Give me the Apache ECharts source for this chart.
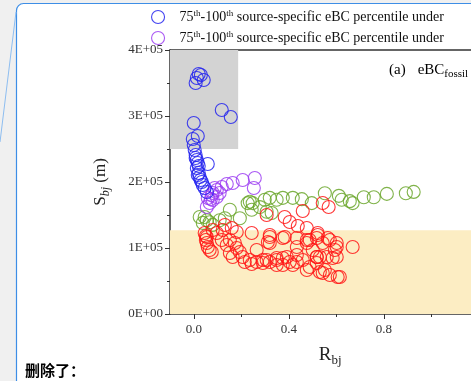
<!DOCTYPE html>
<html><head><meta charset="utf-8">
<script src="https://cdn.jsdelivr.net/npm/echarts@6/dist/echarts.min.js"></script>
<style>
html,body{margin:0;padding:0;overflow:hidden;background:#f0f0f0;width:471px;height:381px}
#c{width:560px;height:381px}
</style>
</head><body><div id="c"></div>
<script>
// ---- data ----
const xTickValues = [0, 0.4, 0.8, 1.2];
const xMinorTickValues = [0.2, 0.6, 1.0];
const yTickLabels = ['0E+00', '1E+05', '2E+05', '3E+05', '4E+05'];
const legendText = '75th-100th source-specific eBC percentile under';
const panelLabel = ['(a)', 'eBC', 'fossil'];
const grayZone = [[-0.1, 250000], [0.187, 400000]];
const yellowZone = [[-0.1, 0], [1.3, 127000]];

const blueData = [
  [0.008,350000],[0.013,357600],[0.021,363600],[0.030,362100],[0.042,354500],
  [0.118,309100],[0.156,298500],[0.000,289400],[0.017,269700],[-0.004,265200],
  [0.000,256100],[0.004,248500],[0.008,240900],[0.008,236400],[0.013,233300],
  [0.017,228800],[0.059,227300],[0.021,224200],[0.013,221200],[0.021,213600],
  [0.017,210600],[0.025,207600],[0.029,203000],[0.034,200000],[0.038,195500],
  [0.046,190900],[0.055,184800]
];
const purpleData = [
  [0.059,175800],[0.067,168200],[0.055,162100],[0.080,183300],[0.080,172700],
  [0.097,187900],[0.097,177300],[0.109,183300],[0.118,192400],[0.139,197000],
  [0.164,198500],[0.206,203000],[0.257,206100],[0.253,190900],[0.076,180300],
  [0.088,190900],[0.072,174200]
];
const greenData = [
  [0.046,147000],[0.055,142000],[0.038,138000],[0.067,139000],[0.080,135000],
  [0.025,147000],[0.109,142000],[0.131,145000],[0.152,158000],[0.194,145000],
  [0.227,168000],[0.236,170000],[0.248,168000],[0.244,158000],[0.278,162000],
  [0.299,173000],[0.320,176000],[0.349,173000],[0.307,155000],[0.328,153000],
  [0.375,176000],[0.417,176000],[0.455,174000],[0.497,168000],[0.552,183000],
  [0.611,179000],[0.623,173000],[0.657,171000],[0.669,168000],[0.716,177000],
  [0.758,177000],[0.813,182000],[0.893,183000],[0.926,185000]
];
const redData = [
  [0.046,122700],[0.055,116700],[0.051,112100],[0.055,107600],[0.059,101500],
  [0.067,97000],[0.076,93900],[0.051,118200],[0.080,127300],[0.097,122700],
  [0.122,127300],[0.131,134800],[0.160,130300],[0.181,124200],[0.152,112100],
  [0.173,107600],[0.181,100000],[0.194,93900],[0.206,86400],[0.236,81800],
  [0.265,78800],[0.291,81800],[0.320,78800],[0.349,81800],[0.375,84800],
  [0.404,78800],[0.434,78800],[0.459,81800],[0.244,122700],[0.320,116700],
  [0.320,107600],[0.383,116700],[0.434,101500],[0.476,112100],[0.501,97000],
  [0.518,86400],[0.265,97000],[0.152,92400],[0.164,86400],[0.476,130300],
  [0.522,119700],[0.564,115200],[0.602,107600],[0.669,101500],[0.476,107600],
  [0.531,86400],[0.585,84800],[0.518,77300],[0.476,66700],[0.531,63600],
  [0.573,59100],[0.606,56100],[0.552,66700],[0.594,97000],[0.459,156100],
  [0.543,168200],[0.568,162100],[0.307,150000],[0.383,147000],[0.404,139400],
  [0.438,133300],[0.320,119700],[0.522,122700],[0.573,112100],[0.602,101500],
  [0.615,56100],[0.543,62100],[0.417,74200],[0.375,74200],[0.349,74200],
  [0.291,77300],[0.139,104500],[0.118,112100],[0.312,109100],[0.375,115200],
  [0.434,115200],[0.488,112100],[0.518,115200],[0.543,107600],[0.602,86400],
  [0.560,86400],[0.518,86400],[0.434,89400],[0.392,86400],[0.349,84800],
  [0.307,81800],[0.488,71200],[0.215,78800],[0.244,75800]
];

// ---- chart ----
const SERIF = '"Liberation Serif","DejaVu Serif",serif';
const chart = echarts.init(document.getElementById('c'), null, {renderer: 'canvas'});
const sym = 13;
function sc(name, data, color) {
  return {
    name: name, type: 'scatter', data: data, symbol: 'circle', symbolSize: sym,
    itemStyle: {color: 'rgba(0,0,0,0)', borderColor: color, borderWidth: 1.1, opacity: 0.85},
    emphasis: {disabled: true}, z: 5
  };
}
const nameBlue = legendText + ' (1)';
const namePurple = legendText + ' (2)';
const axisCol = '#333';
chart.setOption({
  animation: false,
  textStyle: {fontFamily: SERIF},
  graphic: [
    {type: 'rect', z: -10, shape: {x: 16.5, y: 3.5, width: 620, height: 420, r: 7},
     style: {fill: '#ffffff', stroke: '#3d8ee6', lineWidth: 1.2}},
    {type: 'line', z: -9, shape: {x1: 16, y1: 12, x2: 0, y2: 142},
     style: {stroke: '#8dbdf0', lineWidth: 1}},
    {type: 'text', left: 25, top: 363, z: 10,
     style: {text: '删除了：', font: 'bold 15px "Noto Sans CJK SC"', fill: '#000'}},
    {type: 'text', left: 389, top: 63, z: 10,
     style: {text: '{a|' + panelLabel[0] + '}{g| }{a|' + panelLabel[1] + '}{s|' + panelLabel[2] + '}',
       rich: {a: {fontFamily: SERIF, fontSize: 15, fill: '#000', color: '#000'},
              g: {fontFamily: SERIF, fontSize: 15, width: 12},
              s: {fontFamily: SERIF, fontSize: 11, color: '#000', padding: [8, 0, 0, 0]}}}}
  ],
  legend: {
    data: [nameBlue, namePurple], orient: 'vertical', left: 146, top: 4, itemGap: 6,
    itemWidth: 13, itemHeight: 13, icon: 'circle',
    itemStyle: {color: 'rgba(0,0,0,0)', borderWidth: 1.1},
    formatter: function () {
      return '{a|75}{s|th}{a|-100}{s|th}{a| source-specific eBC percentile under}';
    },
    textStyle: {
      fontFamily: SERIF, fontSize: 14, color: '#111', padding: [0, 0, 0, 10],
      rich: {a: {fontFamily: SERIF, fontSize: 14, color: '#111'},
             s: {fontFamily: SERIF, fontSize: 9, color: '#111', verticalAlign: 'top', padding: [0, 0, 7, 0]}}
    }
  },
  grid: {left: 170, top: 50, width: 332.5, bottom: 67, containLabel: false},
  xAxis: [{
    type: 'value', min: -0.1, max: 1.3, position: 'bottom',
    name: '{r|R}{s|bj}', nameLocation: 'middle', nameGap: 30,
    nameTextStyle: {padding: [0, 12, 0, 0], rich: {
      r: {fontFamily: SERIF, fontSize: 19, color: '#222'},
      s: {fontFamily: SERIF, fontSize: 13, color: '#222', padding: [10, 0, 0, 0]}}},
    splitLine: {show: false},
    axisLine: {onZero: false, lineStyle: {color: axisCol, width: 1.5}},
    axisTick: {show: true, inside: false, length: 5, customValues: xTickValues, lineStyle: {color: axisCol}},
    axisLabel: {customValues: xTickValues, margin: 9, fontFamily: SERIF, fontSize: 13, color: '#333',
      formatter: v => v.toFixed(1)}
  }, {
    type: 'value', min: -0.1, max: 1.3, position: 'bottom',
    splitLine: {show: false},
    axisLine: {show: false},
    axisTick: {show: true, length: 3, customValues: xMinorTickValues, lineStyle: {color: axisCol}},
    axisLabel: {show: false}
  }, {
    type: 'value', min: -0.1, max: 1.3, position: 'top',
    splitLine: {show: false},
    axisLine: {show: true, onZero: false, lineStyle: {color: axisCol, width: 1.5}},
    axisTick: {show: false}, axisLabel: {show: false}
  }],
  yAxis: [{
    type: 'value', min: 0, max: 400000, interval: 100000,
    name: '{a|S}{s|bj}{a| (m)}', nameLocation: 'middle', nameGap: 58, nameRotate: 90,
    nameTextStyle: {rich: {
      a: {fontFamily: SERIF, fontSize: 17, color: '#222'},
      s: {fontFamily: SERIF, fontSize: 12, fontStyle: 'italic', color: '#222', padding: [10, 0, 0, 0]}}},
    splitLine: {show: false},
    axisLine: {show: true, onZero: false, lineStyle: {color: axisCol, width: 1.5}},
    axisTick: {show: true, length: 5, lineStyle: {color: axisCol}},
    minorTick: {show: true, splitNumber: 2, length: 3, lineStyle: {color: axisCol}},
    axisLabel: {margin: 7, fontFamily: SERIF, fontSize: 13, color: '#333',
      formatter: v => yTickLabels[Math.round(v / 100000)]}
  }],
  series: [
    {type: 'scatter', data: [], z: 1, silent: true,
     markArea: {silent: true, data: [
       [{xAxis: yellowZone[0][0], yAxis: yellowZone[0][1], itemStyle: {color: '#fcedc3'}},
        {xAxis: yellowZone[1][0], yAxis: yellowZone[1][1]}],
       [{xAxis: grayZone[0][0], yAxis: grayZone[0][1], itemStyle: {color: '#d3d3d3'}},
        {xAxis: grayZone[1][0], yAxis: grayZone[1][1]}]
     ]}},
    sc('green', greenData, '#6aa62a'),
    sc('red', redData, '#ff1414'),
    sc(namePurple, purpleData, '#9b3cf2'),
    sc(nameBlue, blueData, '#2222ee')
  ]
});
</script>
</body></html>
